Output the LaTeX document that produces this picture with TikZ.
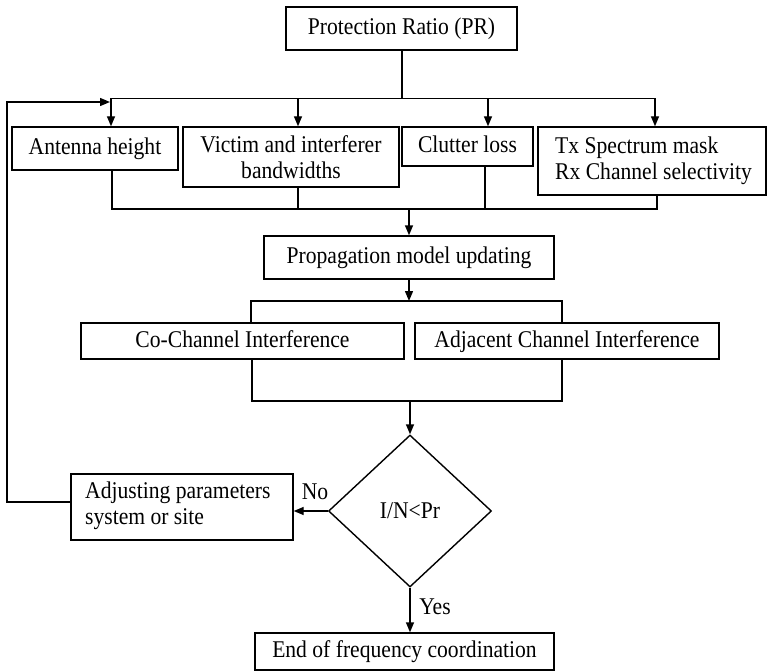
\documentclass[tikz,border=0pt]{standalone}
\usepackage{fontspec}
\setmainfont[FakeStretch=0.9]{Liberation Serif}
\usetikzlibrary{arrows.meta,shapes.geometric}
\begin{document}
\begin{tikzpicture}[x=1pt,y=-1pt,
  every node/.style={font=\fontsize{24pt}{26pt}\selectfont, inner sep=0pt},
  box/.style={draw, line width=1.4pt, align=center},
  one/.style={text height=17pt, text depth=5pt},
  ln/.style={line width=1.4pt},
  arr/.style={line width=1.4pt, -{Triangle[length=10pt,width=8pt]}}]
\useasboundingbox (0,0) rectangle (768,671);
% boxes
\node[box, one, minimum width=231pt, minimum height=43pt] (pr) at (401.5,28.5) {Protection Ratio (PR)};
\node[box, one, minimum width=166pt, minimum height=43pt] (ant) at (95,148.5) {Antenna height};
\node[box, minimum width=216pt, minimum height=60pt] (vic) at (291,157) {Victim and interferer\\bandwidths};
\node[box, one, minimum width=131pt, minimum height=39pt] (clu) at (467.5,146.5) {Clutter loss};
\node[box, minimum width=228pt, minimum height=68pt] (tx) at (652,161) {};
\node[anchor=west, align=left] (txl) at (555,161) {Tx Spectrum mask\\Rx Channel selectivity};
\node[box, one, minimum width=290pt, minimum height=43pt] (pmu) at (409,257.5) {Propagation model updating};
\node[box, one, minimum width=323pt, minimum height=36pt] (co) at (242.5,341) {Co-Channel Interference};
\node[box, one, minimum width=304pt, minimum height=36pt] (adj) at (567,341) {Adjacent Channel Interference};
\node[draw, line width=1.4pt, diamond, minimum width=163pt, minimum height=152pt] (dec) at (410,511) {I/N<Pr};
\node[box, minimum width=222pt, minimum height=66pt] (adp) at (182,507) {};
\node[anchor=west, align=left] (adpl) at (85,506) {Adjusting parameters\\system or site};
\node[box, one, minimum width=299pt, minimum height=37pt] (end) at (404.5,651.5) {End of frequency coordination};
\node (no) at (315,492) {No};
\node (yes) at (435,607) {Yes};
% coordinates
\coordinate (top) at (402,98.5);
\coordinate (bot) at (409,209);
\coordinate (br1) at (409,301);
\coordinate (br2) at (410,401);
\coordinate (fb) at (110,102);
% top distribution
\draw[ln] (pr.south -| top) -- (top);
\draw[ln] (111,98.5) -- (656,98.5);
\draw[arr] (111,98.5) -- (ant.north -| 111,0);
\draw[arr] (298,98.5) -- (vic.north -| 298,0);
\draw[arr] (488,98.5) -- (clu.north -| 488,0);
\draw[arr] (655,98.5) -- (tx.north -| 655,0);
% collector
\draw[ln] (ant.south -| 112,0) -- (112,209) -- (657,209) -- (tx.south -| 657,0);
\draw[ln] (vic.south -| 298,0) -- (298,209);
\draw[ln] (clu.south -| 485,0) -- (485,209);
\draw[arr] (bot) -- (pmu.north -| bot);
% to interference boxes
\draw[arr] (pmu.south -| br1) -- (br1);
\draw[ln] (co.north -| 251,0) -- (251,301) -- (562,301) -- (adj.north -| 562,0);
\draw[ln] (co.south -| 252,0) -- (252,401) -- (562,401) -- (adj.south -| 562,0);
\draw[arr] (br2) -- (dec.north);
% decision
\draw[arr] (dec.west) -- (adp.east |- dec.west);
\draw[arr] (dec.south) -- (end.north -| dec.south);
% feedback
\draw[arr] (adp.west |- 0,502) -- (7,502) -- (7,102) -- (fb);
\end{tikzpicture}
\end{document}
